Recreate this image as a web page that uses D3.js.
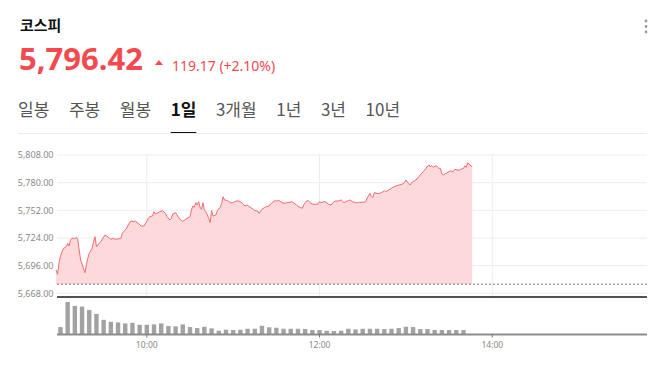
<!DOCTYPE html>
<html>
<head>
<meta charset="utf-8">
<script src="https://cdn.jsdelivr.net/npm/d3@7"></script>
<style>
  body { margin: 0; background: #fff; }
  svg { display: block; font-family: "Noto Sans CJK KR", "Noto Sans", sans-serif; }
</style>
</head>
<body>
<div id="chart"></div>
<script>
const title = '코스피';
const lastPrice = 5796.42;
const change = 119.17;
const changePct = 2.10;
const prevClose = 5677.25;
const tabs = ['일봉', '주봉', '월봉', '1일', '3개월', '1년', '3년', '10년'];
const activeTab = '1일';
const yTicks = [5668, 5696, 5724, 5752, 5780, 5808];
const xTicks = ['10:00', '12:00', '14:00'];

// minutes after 09:00
const minutes = [-3,-2,-1,0,2,4,5,6,7,8,10,11,12,13,14,15,17,18,19,20,22,23,24,25,26,28,29,31,32,34,35,37,38,40,42,43,45,46,47,49,
  51,52,54,56,58,59,61,62,64,65,66,67,69,70,71,73,74,76,77,78,80,81,83,85,87,88,90,91,92,93,94,95,96,97,98,99,100,101,102,103,
  104,105,106,108,109,111,112,113,114,116,118,120,121,123,125,127,128,130,131,132,134,135,137,138,140,142,143,145,146,147,149,150,152,154,156,157,159,161,163,164,
  166,168,169,170,171,172,174,175,177,179,180,181,183,184,186,188,190,191,193,195,197,198,200,201,203,205,207,208,210,212,213,215,216,217,218,220,222,224,225,226,
  228,230,231,233,235,237,238,239,240,241,243,244,246,247,249,251,252,254,255,256,257,258,259,261,262,263,264,265,266,268,270,271,273,274,276,277,278,280,281,282,
  283,284,285,286];
const prices = [5691.6,5687.3,5698.4,5705.8,5713.2,5715.2,5718.6,5715.9,5722.0,5723.7,5723.3,5724.7,5722.7,5711.9,5701.7,5697.7,5688.9,5696.7,5703.5,5708.5,
  5713.6,5720.3,5725.3,5715.2,5716.9,5720.3,5722.7,5727.0,5726.0,5723.7,5722.7,5723.7,5722.7,5723.0,5723.7,5728.8,5732.1,5733.8,5737.2,5741.2,
  5740.5,5741.2,5738.9,5736.1,5736.1,5738.2,5743.9,5745.6,5746.3,5750.6,5748.3,5749.0,5750.6,5751.3,5751.3,5749.0,5745.6,5742.2,5743.9,5748.3,
  5749.6,5747.3,5742.9,5740.9,5742.9,5743.9,5745.6,5752.3,5756.4,5755.1,5759.7,5757.4,5760.7,5755.1,5753.0,5759.7,5752.3,5750.6,5747.3,5743.9,
  5739.5,5751.6,5746.3,5747.3,5751.6,5755.1,5759.1,5765.8,5762.5,5761.8,5759.7,5759.7,5760.7,5761.8,5760.7,5758.4,5756.4,5757.4,5755.7,5755.1,
  5753.0,5751.6,5751.3,5749.0,5753.0,5755.1,5755.7,5756.4,5758.4,5759.7,5761.8,5761.4,5761.8,5759.7,5759.1,5759.7,5760.1,5760.7,5758.4,5757.4,
  5755.1,5754.1,5757.4,5759.7,5761.4,5761.8,5759.1,5758.4,5758.1,5758.4,5760.7,5759.7,5760.7,5760.7,5758.4,5757.4,5760.7,5761.4,5761.4,5762.5,
  5759.7,5760.7,5761.8,5762.5,5760.7,5759.7,5759.7,5760.1,5760.1,5760.7,5764.2,5769.2,5765.8,5765.0,5769.8,5769.2,5769.2,5770.9,5771.9,5770.9,
  5772.6,5774.3,5775.3,5776.6,5777.6,5778.3,5778.7,5780.4,5782.7,5780.7,5777.6,5780.0,5782.0,5782.7,5786.0,5789.5,5791.1,5794.5,5796.9,5797.9,
  5796.2,5797.2,5795.6,5797.2,5795.6,5794.5,5794.5,5788.8,5787.8,5789.5,5791.1,5791.8,5791.1,5793.5,5792.8,5792.8,5793.5,5794.5,5796.9,5795.6,
  5800.2,5798.9,5796.9,5796.4];
// volume per 5-minute bar starting 09:00 (arbitrary units)
const volumes = [700,3230,2830,2770,2430,2030,1430,1230,1170,1070,1130,930,930,970,1070,800,770,970,700,600,
  730,570,330,430,400,430,530,530,830,670,630,530,530,530,500,400,400,320,300,330,
  530,470,530,530,530,500,530,600,730,700,500,500,400,400,400,400,400];

const W = 655, H = 365;
const red = '#f24a4f';
const day = (h, m) => new Date(2025, 0, 2, h, m);
const hm = s => { const [h, m] = s.split(':').map(Number); return day(h, m); };

const svg = d3.select('#chart').append('svg')
  .attr('width', W)
  .attr('height', H);

svg.append('rect').attr('width', W).attr('height', H).attr('fill', '#fff');

// header
svg.append('text')
  .attr('x', 20).attr('y', 31)
  .attr('font-size', 15).attr('font-weight', 700).attr('fill', '#111')
  .text(title);

const big = svg.append('text')
  .attr('x', 19).attr('y', 70)
  .attr('font-family', '"Noto Sans", sans-serif')
  .attr('font-size', 31).attr('font-weight', 700).attr('fill', red)
  .text(d3.format(',.2f')(lastPrice));
const bigEnd = 19 + big.node().getComputedTextLength();

const triX = bigEnd + 16;
svg.append('path')
  .attr('d', `M${triX - 4},65 L${triX + 4},65 L${triX},60 Z`)
  .attr('fill', red);

svg.append('text')
  .attr('x', triX + 13).attr('y', 70.5)
  .attr('font-family', '"Noto Sans", sans-serif')
  .attr('font-size', 14).attr('fill', red)
  .text(`${d3.format('.2f')(change)} (+${d3.format('.2f')(changePct)}%)`);

// menu dots
svg.selectAll('circle.menu')
  .data([0, 1, 2])
  .enter().append('circle')
  .attr('class', 'menu')
  .attr('cx', 646).attr('cy', d => 21 + d * 5.5)
  .attr('r', 1.4).attr('fill', '#9a9a9a');

// tabs
let tx = 18;
tabs.forEach(t => {
  const on = t === activeTab;
  const el = svg.append('text')
    .attr('x', tx).attr('y', 116)
    .attr('font-size', 17)
    .attr('font-weight', on ? 700 : 400)
    .attr('fill', on ? '#111' : '#555')
    .text(t);
  const w = el.node().getComputedTextLength();
  if (on) {
    svg.append('rect')
      .attr('x', tx).attr('y', 132).attr('width', w).attr('height', 2)
      .attr('fill', '#111');
  }
  tx += w + 19.6;
});
svg.append('line')
  .attr('x1', 18).attr('x2', 647).attr('y1', 133.5).attr('y2', 133.5)
  .attr('stroke', '#ececec');

// scales
const x = d3.scaleTime()
  .domain([new Date(2025, 0, 2, 8, 57, 36), new Date(2025, 0, 2, 15, 47, 30)])
  .range([57, 647]);
const y = d3.scaleLinear()
  .domain([5668, 5808])
  .range([293.3, 155]);
const yv = d3.scaleLinear()
  .domain([0, d3.max(volumes)])
  .range([334, 302]);

const data = minutes.map((m, i) => ({ t: day(9, m), v: prices[i] }));

// grid
svg.append('g').selectAll('line')
  .data(yTicks)
  .enter().append('line')
  .attr('x1', 57).attr('x2', 647)
  .attr('y1', d => y(d)).attr('y2', d => y(d))
  .attr('stroke', '#ededed');

svg.append('g').selectAll('line')
  .data(xTicks)
  .enter().append('line')
  .attr('x1', d => x(hm(d))).attr('x2', d => x(hm(d)))
  .attr('y1', y(5808)).attr('y2', 297)
  .attr('stroke', '#ededed');

// y labels
svg.append('g').selectAll('text')
  .data(yTicks)
  .enter().append('text')
  .attr('x', 53.5).attr('y', d => y(d) + 3.2)
  .attr('text-anchor', 'end')
  .attr('font-family', '"Noto Sans", sans-serif')
  .attr('font-size', 9).attr('fill', '#8a8a8a')
  .text(d => d3.format(',.2f')(d));

// area + line
const area = d3.area()
  .x(d => x(d.t))
  .y0(y(prevClose))
  .y1(d => y(d.v));
svg.append('path')
  .datum(data)
  .attr('d', area)
  .attr('fill', '#fdd9dc');

const line = d3.line()
  .x(d => x(d.t))
  .y(d => y(d.v));
svg.append('path')
  .datum(data)
  .attr('d', line)
  .attr('fill', 'none')
  .attr('stroke', '#f26a70')
  .attr('stroke-width', 1);

// previous close
svg.append('line')
  .attr('x1', 57).attr('x2', 647)
  .attr('y1', y(prevClose)).attr('y2', y(prevClose))
  .attr('stroke', '#777')
  .attr('stroke-dasharray', '2,2');

// divider
svg.append('line')
  .attr('x1', 57).attr('x2', 647).attr('y1', 297).attr('y2', 297)
  .attr('stroke', '#1a1a1a').attr('stroke-width', 1.5);

// volume
svg.append('g').selectAll('rect')
  .data(volumes)
  .enter().append('rect')
  .attr('x', (d, i) => x(day(9, i * 5)) - 2.2)
  .attr('width', 4.4)
  .attr('y', d => yv(d))
  .attr('height', d => yv(0) - yv(d))
  .attr('fill', '#a2a2a2');

svg.append('line')
  .attr('x1', 57).attr('x2', 647).attr('y1', 334.5).attr('y2', 334.5)
  .attr('stroke', '#8c8c8c').attr('stroke-width', 2);

const xt = svg.append('g').selectAll('g')
  .data(xTicks)
  .enter().append('g')
  .attr('transform', d => `translate(${x(hm(d))},0)`);
xt.append('line')
  .attr('y1', 334).attr('y2', 337.5)
  .attr('stroke', '#777');
xt.append('text')
  .attr('y', 347.5)
  .attr('text-anchor', 'middle')
  .attr('font-family', '"Noto Sans", sans-serif')
  .attr('font-size', 8.5).attr('fill', '#8a8a8a')
  .text(d => d);
</script>
</body>
</html>
